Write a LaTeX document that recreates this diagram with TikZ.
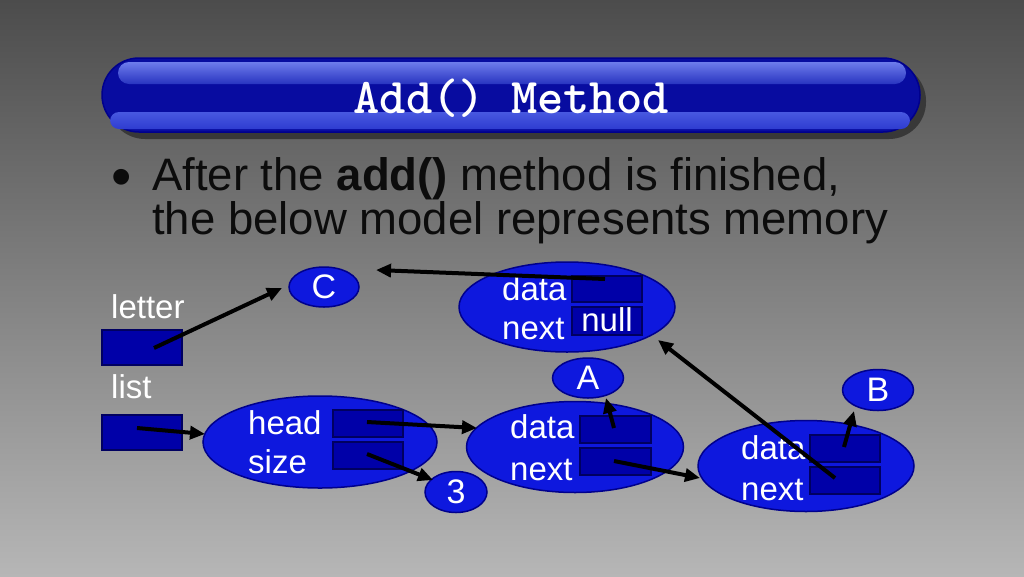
\documentclass[tikz,border=0pt]{standalone}
\usepackage{fontspec}
\setmainfont{Liberation Sans}
\usetikzlibrary{arrows.meta,shapes.geometric}
\definecolor{bgtop}{RGB}{76,76,76}
\definecolor{bgbot}{RGB}{182,182,182}
\definecolor{barshadow}{RGB}{56,56,56}
\definecolor{barblue}{RGB}{8,12,160}
\definecolor{baredge}{RGB}{0,0,140}
\definecolor{hltop}{RGB}{110,124,236}
\definecolor{hlbot}{RGB}{40,52,192}
\definecolor{lowtop}{RGB}{72,88,224}
\definecolor{lowbot}{RGB}{46,60,208}
\definecolor{ellfill}{RGB}{14,24,222}
\definecolor{elledge}{RGB}{0,0,140}
\definecolor{boxfill}{RGB}{0,0,168}
\definecolor{boxedge}{RGB}{0,0,96}
\definecolor{bodytext}{RGB}{12,12,12}
\begin{document}
\begin{tikzpicture}[x=1pt,y=-1pt,
  ell/.style={ellipse, draw=elledge, fill=ellfill, line width=1.5pt, inner sep=0pt,
    text=white, font=\fontsize{34}{40}\selectfont},
  memcell/.style={rectangle, draw=boxedge, fill=boxfill, line width=1.5pt, inner sep=0pt, anchor=north west},
  lbl/.style={text=white, inner sep=0pt, anchor=base west, font=\fontsize{33}{40}\selectfont},
  bodyline/.style={text=bodytext, inner sep=0pt, anchor=base west, font=\fontsize{45.5}{40}\selectfont},
  ptr/.style={line width=4pt, black, -{Triangle[length=15pt,width=13pt]}}
]
\useasboundingbox (0,0) rectangle (1024,576);
\shade[top color=bgtop, bottom color=bgbot] (0,0) rectangle (1024,576);

% title bar
\fill[barshadow, rounded corners=37pt] (108,64) rectangle (926,139);
\fill[barblue, draw=baredge, line width=1.5pt, rounded corners=37pt] (102,58) rectangle (920,132);
\shade[top color=hltop, bottom color=hlbot, rounded corners=11pt] (118,62) rectangle (906,84);
\shade[top color=lowtop, bottom color=lowbot, rounded corners=9pt] (110,112) rectangle (910,129);
\node[text=white, inner sep=0pt, anchor=base, font=\fontsize{50}{56}\selectfont\ttfamily\bfseries] (title) at (511,113) {Add() Method};

% bullet text
\node[bodyline, font=\fontsize{58}{60}\selectfont] (bullet) at (111,196) {•};
\node[bodyline, align=left] (body) at (152,234) {After the \textbf{add()} method is finished,\\the below model represents memory};

% variables
\node[lbl] (letterlbl) at (111,318) {letter};
\node[memcell, minimum width=80pt, minimum height=35pt] (letterbox) at (101,329) {};
\node[lbl] (listlbl) at (111,398) {list};
\node[memcell, minimum width=80pt, minimum height=35pt] (listbox) at (101,414) {};

% small value ellipses
\node[ell, minimum width=70pt, minimum height=40pt] (C) at (324,287) {C};
\node[ell, minimum width=71pt, minimum height=40pt] (A) at (588,378) {A};
\node[ell, minimum width=71pt, minimum height=41pt] (B) at (878,390) {B};
\node[ell, minimum width=62pt, minimum height=41pt] (three) at (456,492) {3};

% list object
\node[ell, minimum width=234pt, minimum height=92pt] (listobj) at (320,442) {};
\node[memcell, minimum width=70pt, minimum height=27pt] (headbox) at (332,409) {};
\node[memcell, minimum width=70pt, minimum height=27pt] (sizebox) at (332,441) {};
\node[lbl] (headlbl) at (248,434) {head};
\node[lbl] (sizelbl) at (248,473) {size};

% node holding C
\node[ell, minimum width=216pt, minimum height=90pt] (nodeC) at (567,307) {};
\node[memcell, minimum width=70pt, minimum height=26pt] (nodeCdata) at (571,275) {};
\node[memcell, minimum width=70pt, minimum height=28pt] (nodeCnext) at (571,306) {};
\node[lbl] (nodeCdatalbl) at (502,300) {data};
\node[lbl] (nodeCnextlbl) at (502,339) {next};
\node[lbl, anchor=base] (nulllbl) at (607,331) {null};

% node holding A
\node[ell, minimum width=217pt, minimum height=91pt] (nodeA) at (575,447) {};
\node[memcell, minimum width=71pt, minimum height=27pt] (nodeAdata) at (579,415) {};
\node[memcell, minimum width=71pt, minimum height=27pt] (nodeAnext) at (579,447) {};
\node[lbl] (nodeAdatalbl) at (510,438) {data};
\node[lbl] (nodeAnextlbl) at (510,480) {next};

% node holding B
\node[ell, minimum width=216pt, minimum height=91pt] (nodeB) at (806,466) {};
\node[memcell, minimum width=70pt, minimum height=27pt] (nodeBdata) at (809,434) {};
\node[memcell, minimum width=70pt, minimum height=27pt] (nodeBnext) at (809,466) {};
\node[lbl] (nodeBdatalbl) at (741,459) {data};
\node[lbl] (nodeBnextlbl) at (741,500) {next};

% pointer tails and tips
\coordinate (t1) at (154,348); \coordinate (h1) at (282,288);
\coordinate (t2) at (137,428); \coordinate (h2) at (205,434);
\coordinate (t3) at (367,422); \coordinate (h3) at (477,428);
\coordinate (t4) at (367,454); \coordinate (h4) at (433,480);
\coordinate (t5) at (605,279); \coordinate (h5) at (376,270);
\coordinate (t6) at (614,428); \coordinate (h6) at (606,398);
\coordinate (t7) at (614,461); \coordinate (h7) at (700,478);
\coordinate (t8) at (844,447); \coordinate (h8) at (854,411);
\coordinate (t9) at (835,478); \coordinate (h9) at (658,340);

\draw[ptr] (t1) -- (h1);
\draw[ptr] (t2) -- (h2);
\draw[ptr] (t3) -- (h3);
\draw[ptr] (t4) -- (h4);
\draw[ptr] (t5) -- (h5);
\draw[ptr] (t6) -- (h6);
\draw[ptr] (t7) -- (h7);
\draw[ptr] (t8) -- (h8);
\draw[ptr] (t9) -- (h9);
\end{tikzpicture}
\end{document}
